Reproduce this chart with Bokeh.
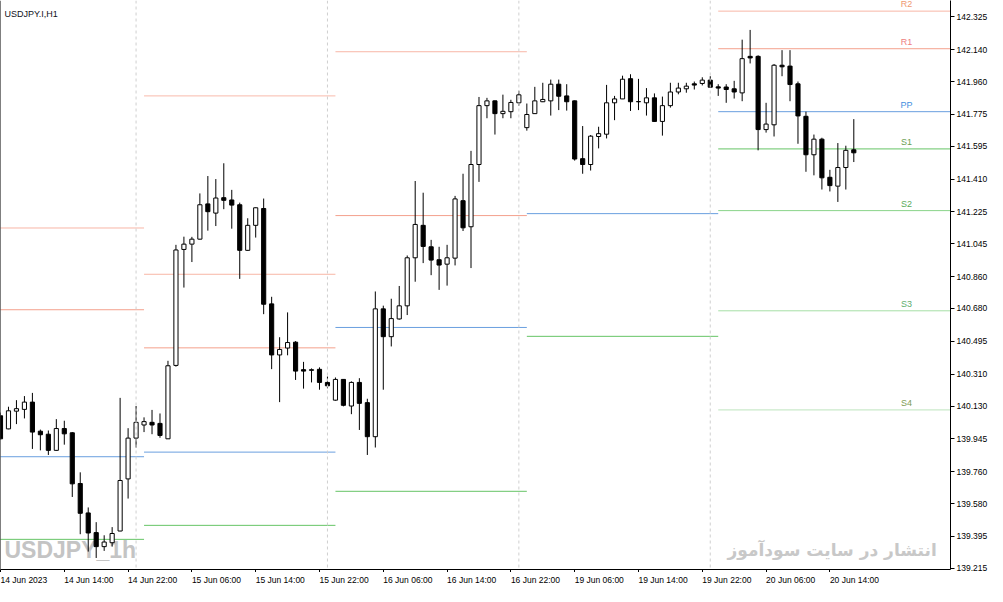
from bokeh.plotting import figure
from bokeh.layouts import column
from bokeh.models import Range1d, FixedTicker, NumeralTickFormatter, Span, ColumnDataSource
from bokeh.core.properties import value
from bokeh.embed import file_html
from bokeh.resources import INLINE

# USDJPY H1 candles, 14 Jun 06:00 .. 20 Jun 17:00 (one entry per bar)
opens = [140.075, 140.001, 140.101, 140.111, 140.152, 139.988, 139.971, 139.880, 140.003, 139.979,
         139.693, 139.527, 139.416, 139.337, 139.359, 139.425, 139.719, 139.949, 140.023, 140.038,
         140.032, 139.945, 140.359, 141.013, 141.043, 141.071, 141.270, 141.218, 141.305, 141.292,
         141.265, 141.008, 141.149, 141.244, 140.706, 140.418, 140.457, 140.490, 140.335, 140.331,
         140.337, 140.263, 140.163, 140.280, 140.130, 140.263, 140.149, 139.957, 140.678, 140.521,
         140.621, 140.695, 140.966, 141.149, 141.028, 140.955, 140.930, 140.964, 141.288, 141.141,
         141.492, 141.824, 141.851, 141.779, 141.790, 141.840, 141.700, 141.779, 141.846, 141.851,
         141.945, 141.879, 141.851, 141.525, 141.492, 141.650, 141.663, 141.840, 141.862, 141.976,
         141.846, 141.840, 141.868, 141.735, 141.824, 141.901, 141.919, 141.947, 141.949, 141.968,
         141.930, 141.929, 141.919, 141.896, 142.102, 142.102, 141.689, 141.716, 142.052, 142.047,
         141.947, 141.764, 141.547, 141.635, 141.420, 141.370, 141.475, 141.575]
highs = [140.093, 140.126, 140.163, 140.186, 140.204, 139.997, 139.992, 140.056, 140.047, 139.983,
         139.756, 139.558, 139.475, 139.401, 139.447, 140.176, 140.005, 140.130, 140.066, 140.108,
         140.088, 140.385, 141.039, 141.085, 141.084, 141.329, 141.427, 141.410, 141.499, 141.349,
         141.277, 141.189, 141.250, 141.300, 140.746, 140.518, 140.658, 140.496, 140.379, 140.342,
         140.348, 140.296, 140.291, 140.281, 140.269, 140.287, 140.171, 140.776, 140.696, 140.735,
         140.807, 140.979, 141.399, 141.333, 141.067, 141.028, 141.039, 141.315, 141.440, 141.569,
         141.873, 141.868, 141.853, 141.886, 141.857, 141.908, 141.836, 141.930, 141.953, 141.971,
         141.971, 141.945, 141.853, 141.709, 141.658, 141.705, 141.941, 141.879, 141.993, 142.001,
         141.975, 141.923, 141.893, 141.875, 141.953, 141.953, 141.953, 141.960, 141.984, 141.990,
         141.945, 141.945, 141.964, 142.196, 142.251, 142.108, 141.840, 142.059, 142.137, 142.137,
         141.960, 141.790, 141.661, 141.643, 141.462, 141.613, 141.598, 141.748]
lows = [139.940, 139.999, 140.028, 140.060, 139.888, 139.880, 139.854, 139.878, 139.912, 139.617,
        139.407, 139.309, 139.273, 139.313, 139.337, 139.424, 139.608, 139.896, 139.983, 139.971,
        139.951, 139.944, 140.352, 140.798, 140.942, 141.069, 141.119, 141.145, 141.240, 141.130,
        140.847, 141.006, 141.080, 140.648, 140.338, 140.152, 140.416, 140.277, 140.228, 140.263,
        140.222, 140.230, 140.160, 140.128, 140.084, 139.995, 139.854, 139.896, 140.222, 140.466,
        140.617, 140.643, 140.831, 140.936, 140.868, 140.785, 140.809, 140.923, 141.117, 140.908,
        141.394, 141.753, 141.661, 141.753, 141.753, 141.824, 141.683, 141.778, 141.844, 141.768,
        141.799, 141.796, 141.514, 141.440, 141.458, 141.583, 141.639, 141.742, 141.861, 141.794,
        141.799, 141.768, 141.733, 141.655, 141.813, 141.888, 141.897, 141.915, 141.938, 141.927,
        141.879, 141.840, 141.864, 141.849, 142.062, 141.572, 141.672, 141.650, 141.990, 141.849,
        141.609, 141.451, 141.431, 141.351, 141.340, 141.281, 141.351, 141.506]
closes = [139.945, 140.103, 140.115, 140.152, 139.983, 139.968, 139.880, 140.003, 139.973, 139.691,
          139.525, 139.414, 139.337, 139.363, 139.411, 139.710, 139.949, 140.038, 140.042, 140.023,
          139.964, 140.357, 141.010, 141.043, 141.071, 141.265, 141.226, 141.303, 141.290, 141.263,
          141.008, 141.149, 141.248, 140.704, 140.418, 140.449, 140.488, 140.327, 140.327, 140.335,
          140.263, 140.244, 140.280, 140.134, 140.263, 140.145, 139.957, 140.678, 140.521, 140.623,
          140.695, 140.966, 141.154, 141.030, 140.953, 140.925, 140.966, 141.298, 141.135, 141.492,
          141.824, 141.851, 141.779, 141.792, 141.842, 141.885, 141.774, 141.851, 141.859, 141.945,
          141.877, 141.846, 141.523, 141.492, 141.652, 141.666, 141.840, 141.862, 141.973, 141.846,
          141.847, 141.868, 141.735, 141.824, 141.901, 141.923, 141.934, 141.940, 141.968, 141.928,
          141.923, 141.915, 141.901, 142.089, 142.093, 141.689, 141.720, 142.052, 142.043, 141.943,
          141.766, 141.547, 141.635, 141.417, 141.373, 141.475, 141.572, 141.558]

# time axis labels, one every 8 bars
time_labels = ["14 Jun 2023", "14 Jun 14:00", "14 Jun 22:00", "15 Jun 06:00", "15 Jun 14:00",
               "15 Jun 22:00", "16 Jun 06:00", "16 Jun 14:00", "16 Jun 22:00", "19 Jun 06:00",
               "19 Jun 14:00", "19 Jun 22:00", "20 Jun 06:00", "20 Jun 14:00"]
price_ticks = [142.325, 142.140, 141.960, 141.775, 141.595, 141.410, 141.225, 141.045, 140.860,
               140.680, 140.495, 140.310, 140.130, 139.945, 139.760, 139.580, 139.395, 139.215]

# daily pivot levels (bar where each day starts / ends, None = off screen)
day_first_bar = [-6, 18, 42, 66, 90]
day_last_bar = [18, 42, 66, 90, 130]   # current day runs to the right edge
separator_bars = [17, 41, 65, 89]
pivot_R3 = [None, 141.879, None, None, None]
pivot_R2 = [141.134, 140.873, 142.128, None, 142.357]
pivot_R1 = [140.673, 140.458, 141.204, None, 142.145]
pivot_PP = [139.844, 139.870, 140.573, 141.215, 141.790]
pivot_S1 = [139.378, 139.457, 139.649, 140.523, 141.580]
pivot_S2 = [None, None, None, None, 141.232]
pivot_S3 = [None, None, None, None, 140.667]
pivot_S4 = [None, None, None, None, 140.108]
level_names = ["R3", "R2", "R1", "PP", "S1", "S2", "S3", "S4"]

FONT = "Liberation Sans"
FRAME_W = 950

x_range = Range1d(0, 119.125)
p = figure(frame_width=FRAME_W, frame_height=569, x_range=x_range, y_range=Range1d(139.208, 142.417),
           y_axis_location="right", output_backend="svg", toolbar_location=None,
           min_border_left=0, min_border_top=0, min_border_right=37, min_border_bottom=3,
           outline_line_color=None)
p.grid.visible = False

# watermarks behind everything
p.text(x=[0.5], y=[139.243], text=["USDJPY_1h"], text_font=value("'Liberation Sans Narrow', 'Liberation Sans'"),
       text_font_size="23px", text_font_style="bold", text_color="#C4C4C4")
p.text(x=[117.4], y=[139.262], text=["انتشار در سایت سودآموز"], text_font=value("DejaVu Sans"),
       text_font_size="17px", text_font_style="bold", text_color="#C8C8C8", text_align="right")

for b in separator_bars:
    p.add_layout(Span(location=b, dimension="height", line_color="#CFCFCF", line_width=1, line_dash="3 3"))

line_colors = {"R3": "#F9BBAC", "R2": "#F8B6A6", "R1": "#F4A08C", "PP": "#6A9FDF",
               "S1": "#66C466", "S2": "#8AD48A", "S3": "#A6DFA6", "S4": "#BDE5BD"}
label_colors = {"R2": "#EE9A72", "R1": "#EE8080", "PP": "#3F8FE0",
                "S1": "#6A9E52", "S2": "#5AAA5A", "S3": "#5EAE6C", "S4": "#7E9C52"}
levels = {"R3": pivot_R3, "R2": pivot_R2, "R1": pivot_R1, "PP": pivot_PP,
          "S1": pivot_S1, "S2": pivot_S2, "S3": pivot_S3, "S4": pivot_S4}
for name in level_names:
    vals = levels[name]
    x0 = [day_first_bar[i] for i, v in enumerate(vals) if v is not None]
    x1 = [day_last_bar[i] for i, v in enumerate(vals) if v is not None]
    ys = [v for v in vals if v is not None]
    p.segment(x0=x0, y0=ys, x1=x1, y1=ys, line_color=line_colors[name], line_width=1)

# names of the current day's levels
cur = [n for n in level_names if levels[n][-1] is not None]
p.text(x=[113.6] * len(cur), y=[levels[n][-1] for n in cur], text=cur,
       text_color=[label_colors[n] for n in cur], text_font=value(FONT), text_font_size="9px",
       text_align="center", text_baseline="bottom", y_offset=-2)

# candles
bars = list(range(len(opens)))
src = ColumnDataSource(dict(
    x=bars, hi=highs, lo=lows,
    top=[max(o, c) for o, c in zip(opens, closes)],
    bot=[min(o, c) for o, c in zip(opens, closes)],
    fill=["white" if c >= o else "black" for o, c in zip(opens, closes)],
))
p.segment(x0="x", y0="lo", x1="x", y1="hi", source=src, line_color="black", line_width=1)
p.vbar(x="x", width=0.52, top="top", bottom="bot", fill_color="fill", line_color="black",
       line_width=1, source=src)

p.text(x=[0.5], y=[142.368], text=["USDJPY.I,H1"], text_font=value(FONT), text_font_size="9px",
       text_color="#101020", text_baseline="top")

# left chart border
p.add_layout(Span(location=0, dimension="height", line_color="black", line_width=1))

# axes
label_bars = [8 * i for i in range(len(time_labels))]
p.xaxis.ticker = FixedTicker(ticks=label_bars)
p.xaxis.major_label_overrides = {b: "" for b in label_bars}
p.xaxis.major_label_text_font_size = "1px"
p.xaxis.major_label_standoff = 0
p.xaxis.major_tick_out = 3
p.xaxis.major_tick_in = 0
p.xaxis.minor_tick_line_color = None
p.xaxis.axis_line_color = "black"
p.xaxis.major_tick_line_color = "black"

p.yaxis.ticker = FixedTicker(ticks=price_ticks)
p.yaxis.formatter = NumeralTickFormatter(format="0.000")
p.yaxis.major_tick_out = 4
p.yaxis.major_tick_in = 0
p.yaxis.minor_tick_line_color = None
p.yaxis.major_label_standoff = 2
p.yaxis.major_label_text_font = FONT
p.yaxis.major_label_text_font_size = "8.5px"
p.yaxis.major_label_text_color = "black"
p.yaxis.axis_line_color = "black"

# strip under the chart for the left-aligned time labels
strip = figure(frame_width=FRAME_W, frame_height=12, x_range=x_range, y_range=Range1d(0, 1),
               x_axis_type=None, y_axis_type=None, output_backend="svg", toolbar_location=None,
               min_border=0, outline_line_color=None)
strip.grid.visible = False
strip.text(x=label_bars, y=[1] * len(label_bars), text=time_labels, text_font=value(FONT),
           text_font_size="8.5px", text_color="black", text_align="left", text_baseline="top",
           y_offset=2)

layout = column(p, strip, spacing=0)
open("out.html", "w").write(file_html(layout, INLINE))
